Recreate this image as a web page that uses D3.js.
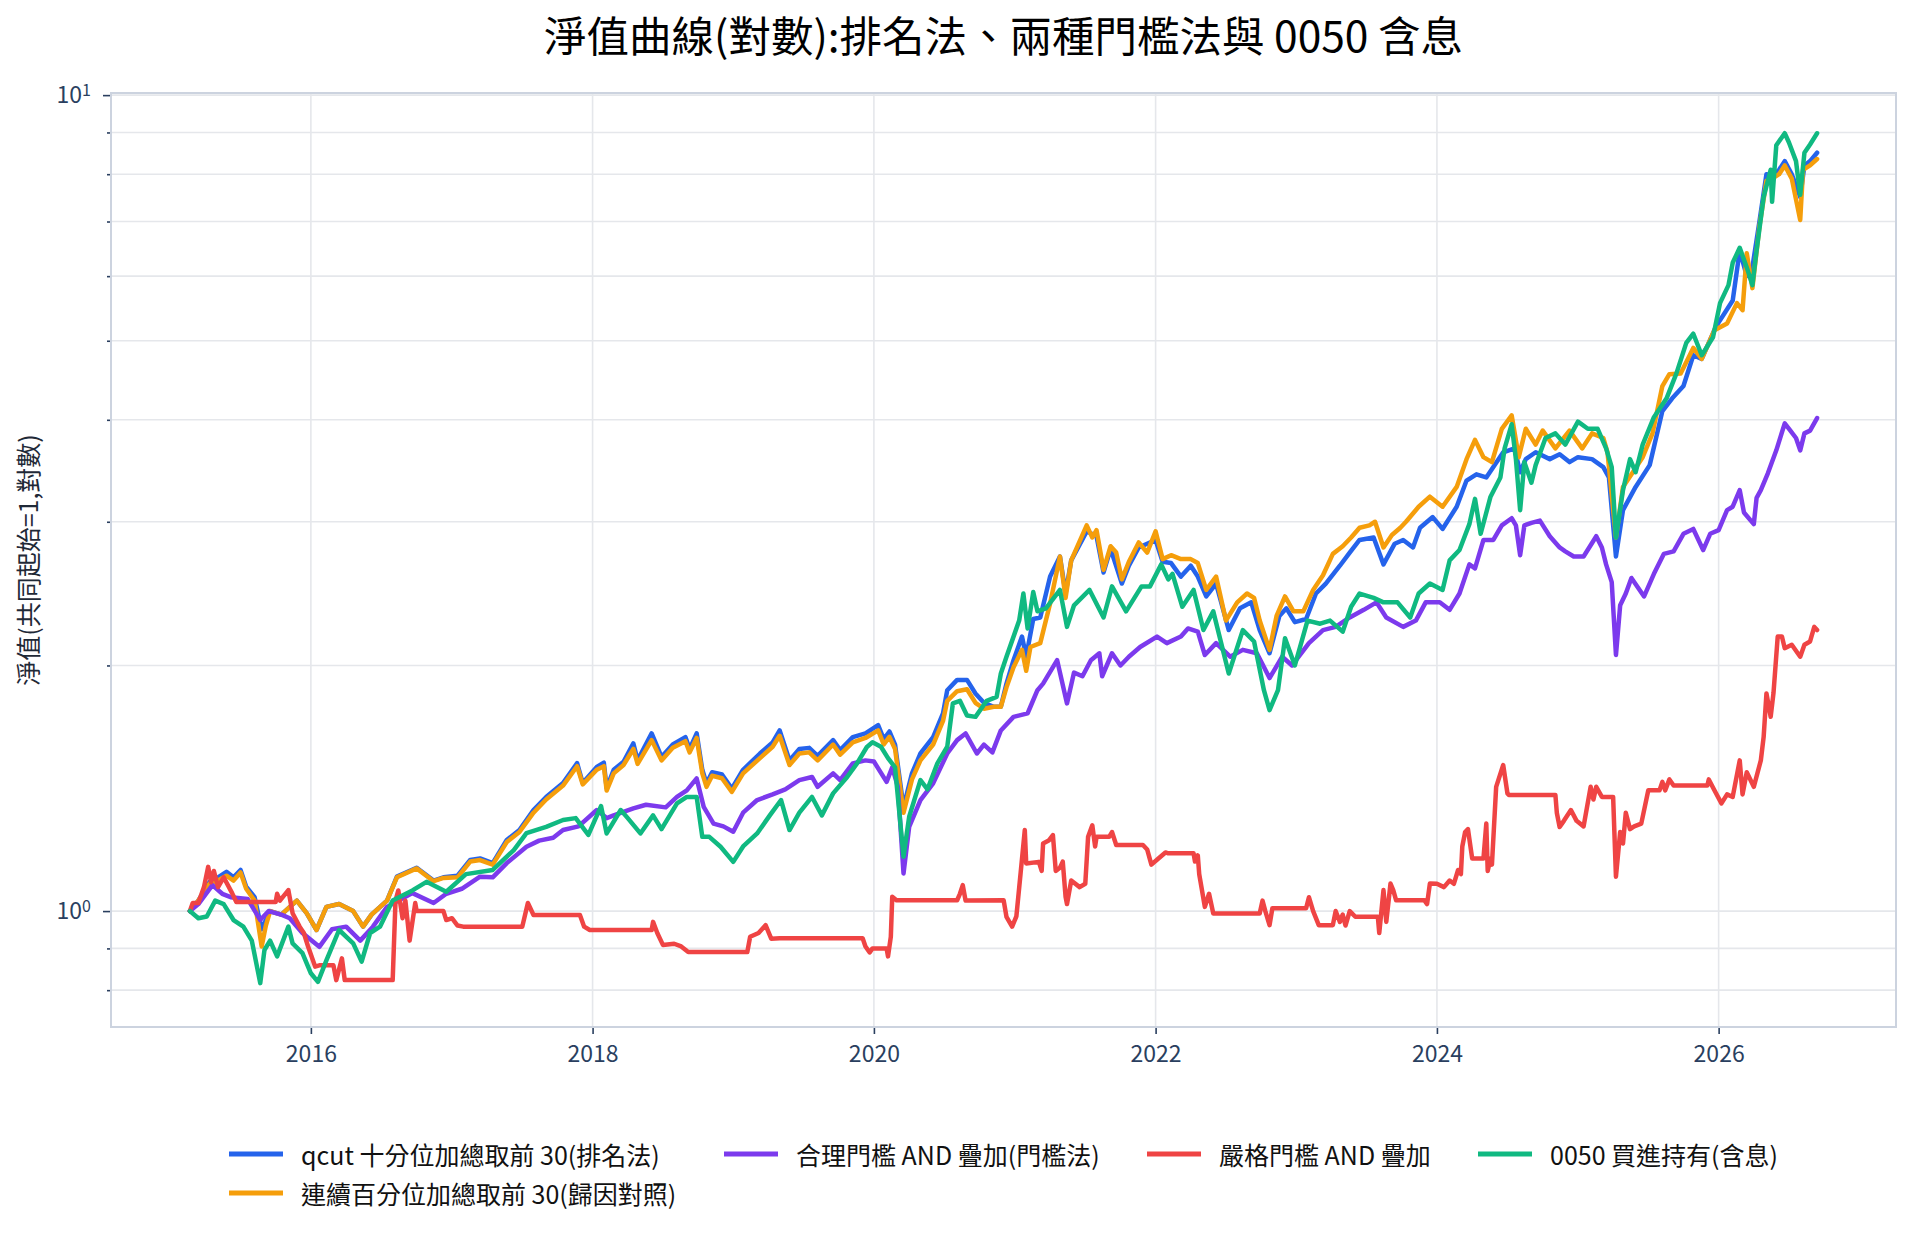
<!DOCTYPE html>
<html>
<head>
<meta charset="utf-8">
<script src="https://cdn.jsdelivr.net/npm/d3@7"></script>
<style>
body { margin: 0; background: #fff; }
text { font-family: "Noto Sans CJK TC", "Noto Sans", sans-serif; }
</style>
</head>
<body>
<svg id="chart" width="1914" height="1236"></svg>
<script>
// values: [decimal year, net value]
const qcut = [[2015.14,1.00],[2015.20,1.03],[2015.28,1.086],[2015.34,1.10],[2015.40,1.117],[2015.45,1.10],[2015.50,1.123],[2015.54,1.071],[2015.60,1.04],[2015.65,0.95],[2015.71,1.00],[2015.79,0.99],[2015.90,1.03],[2015.97,0.994],[2016.04,0.948],[2016.11,1.012],[2016.20,1.02],[2016.30,1.00],[2016.37,0.957],[2016.43,0.99],[2016.54,1.03],[2016.61,1.102],[2016.75,1.13],[2016.87,1.09],[2016.94,1.10],[2017.04,1.105],[2017.13,1.155],[2017.20,1.16],[2017.29,1.145],[2017.39,1.222],[2017.48,1.257],[2017.58,1.33],[2017.67,1.38],[2017.79,1.435],[2017.89,1.518],[2017.93,1.435],[2018.03,1.502],[2018.08,1.52],[2018.10,1.415],[2018.15,1.49],[2018.22,1.524],[2018.29,1.605],[2018.32,1.53],[2018.42,1.651],[2018.49,1.545],[2018.57,1.60],[2018.66,1.634],[2018.69,1.58],[2018.74,1.651],[2018.78,1.49],[2018.81,1.434],[2018.85,1.48],[2018.92,1.47],[2018.99,1.413],[2019.07,1.49],[2019.19,1.56],[2019.28,1.61],[2019.33,1.665],[2019.40,1.53],[2019.47,1.58],[2019.54,1.585],[2019.60,1.55],[2019.71,1.62],[2019.76,1.575],[2019.85,1.634],[2019.94,1.651],[2020.03,1.69],[2020.07,1.625],[2020.11,1.66],[2020.15,1.60],[2020.21,1.34],[2020.27,1.475],[2020.33,1.56],[2020.42,1.634],[2020.49,1.747],[2020.52,1.865],[2020.59,1.92],[2020.66,1.92],[2020.72,1.848],[2020.78,1.80],[2020.85,1.78],[2020.90,1.78],[2020.94,1.90],[2020.99,2.03],[2021.05,2.17],[2021.08,2.05],[2021.13,2.28],[2021.18,2.29],[2021.25,2.57],[2021.32,2.72],[2021.36,2.45],[2021.40,2.69],[2021.51,2.92],[2021.58,2.88],[2021.63,2.60],[2021.68,2.78],[2021.76,2.52],[2021.81,2.65],[2021.88,2.79],[2022.00,2.85],[2022.05,2.68],[2022.11,2.67],[2022.18,2.57],[2022.25,2.65],[2022.30,2.57],[2022.36,2.43],[2022.43,2.52],[2022.52,2.21],[2022.60,2.35],[2022.68,2.39],[2022.74,2.21],[2022.81,2.07],[2022.88,2.30],[2022.93,2.35],[2022.99,2.26],[2023.07,2.28],[2023.14,2.45],[2023.21,2.52],[2023.31,2.65],[2023.38,2.75],[2023.45,2.85],[2023.55,2.87],[2023.62,2.66],[2023.70,2.82],[2023.76,2.85],[2023.83,2.79],[2023.88,2.95],[2023.97,3.04],[2024.04,2.94],[2024.14,3.13],[2024.21,3.37],[2024.28,3.43],[2024.35,3.40],[2024.47,3.65],[2024.55,3.69],[2024.59,3.45],[2024.63,3.58],[2024.70,3.65],[2024.80,3.58],[2024.87,3.63],[2024.94,3.55],[2025.00,3.60],[2025.10,3.58],[2025.18,3.50],[2025.22,3.40],[2025.27,2.72],[2025.32,3.10],[2025.41,3.31],[2025.51,3.52],[2025.60,4.10],[2025.67,4.25],[2025.75,4.40],[2025.82,4.80],[2025.88,4.75],[2025.98,5.20],[2026.10,5.60],[2026.15,6.45],[2026.20,6.00],[2026.24,6.15],[2026.29,7.00],[2026.34,8.00],[2026.38,7.95],[2026.43,8.10],[2026.47,8.30],[2026.52,8.00],[2026.58,7.50],[2026.61,8.20],[2026.65,8.30],[2026.70,8.50]];

const pctRank = [[2015.14,1.00],[2015.20,1.03],[2015.28,1.08],[2015.34,1.09],[2015.40,1.105],[2015.45,1.09],[2015.50,1.115],[2015.54,1.065],[2015.60,1.03],[2015.65,0.905],[2015.68,0.96],[2015.71,1.00],[2015.79,0.99],[2015.90,1.03],[2015.97,0.994],[2016.04,0.948],[2016.11,1.012],[2016.20,1.02],[2016.30,1.00],[2016.37,0.957],[2016.43,0.99],[2016.54,1.03],[2016.61,1.10],[2016.75,1.128],[2016.87,1.088],[2016.94,1.098],[2017.04,1.10],[2017.13,1.15],[2017.20,1.155],[2017.29,1.14],[2017.39,1.215],[2017.48,1.25],[2017.58,1.32],[2017.67,1.37],[2017.79,1.425],[2017.89,1.505],[2017.93,1.43],[2018.03,1.49],[2018.08,1.505],[2018.10,1.405],[2018.15,1.475],[2018.22,1.51],[2018.29,1.58],[2018.32,1.515],[2018.42,1.62],[2018.49,1.53],[2018.57,1.585],[2018.66,1.615],[2018.69,1.565],[2018.74,1.63],[2018.78,1.475],[2018.81,1.42],[2018.85,1.465],[2018.92,1.455],[2018.99,1.40],[2019.07,1.475],[2019.19,1.54],[2019.28,1.59],[2019.33,1.64],[2019.40,1.51],[2019.47,1.56],[2019.54,1.565],[2019.60,1.53],[2019.71,1.60],[2019.76,1.555],[2019.85,1.61],[2019.94,1.63],[2020.03,1.665],[2020.07,1.60],[2020.11,1.635],[2020.15,1.58],[2020.21,1.32],[2020.27,1.45],[2020.33,1.53],[2020.42,1.60],[2020.49,1.71],[2020.52,1.81],[2020.59,1.86],[2020.66,1.87],[2020.72,1.80],[2020.78,1.77],[2020.85,1.78],[2020.90,1.78],[2020.94,1.88],[2020.99,1.99],[2021.05,2.09],[2021.08,1.97],[2021.11,2.107],[2021.18,2.13],[2021.25,2.383],[2021.32,2.72],[2021.36,2.42],[2021.40,2.69],[2021.51,2.97],[2021.55,2.87],[2021.58,2.93],[2021.63,2.62],[2021.68,2.80],[2021.72,2.75],[2021.76,2.55],[2021.81,2.68],[2021.88,2.83],[2021.94,2.75],[2022.00,2.92],[2022.05,2.70],[2022.11,2.73],[2022.18,2.70],[2022.25,2.70],[2022.30,2.67],[2022.36,2.475],[2022.43,2.57],[2022.50,2.27],[2022.58,2.39],[2022.65,2.45],[2022.70,2.42],[2022.74,2.27],[2022.81,2.09],[2022.86,2.30],[2022.92,2.43],[2022.98,2.33],[2023.05,2.33],[2023.12,2.475],[2023.19,2.58],[2023.26,2.74],[2023.33,2.80],[2023.39,2.87],[2023.45,2.95],[2023.52,2.97],[2023.56,3.00],[2023.62,2.79],[2023.68,2.89],[2023.74,2.95],[2023.78,3.00],[2023.87,3.13],[2023.95,3.22],[2024.04,3.13],[2024.14,3.31],[2024.21,3.58],[2024.27,3.78],[2024.33,3.60],[2024.39,3.55],[2024.46,3.90],[2024.53,4.05],[2024.58,3.60],[2024.63,3.90],[2024.70,3.73],[2024.75,3.88],[2024.84,3.69],[2024.94,3.88],[2025.03,3.69],[2025.10,3.85],[2025.18,3.80],[2025.21,3.65],[2025.27,2.87],[2025.32,3.31],[2025.39,3.45],[2025.46,3.60],[2025.53,3.85],[2025.60,4.40],[2025.65,4.55],[2025.73,4.56],[2025.82,4.90],[2025.88,4.75],[2025.97,5.15],[2026.06,5.25],[2026.13,5.56],[2026.17,5.45],[2026.20,6.40],[2026.24,5.80],[2026.29,6.90],[2026.34,7.85],[2026.38,7.90],[2026.43,8.00],[2026.47,8.20],[2026.52,7.90],[2026.58,7.03],[2026.60,8.10],[2026.65,8.20],[2026.70,8.35]];

const fairGate = [[2015.14,1.00],[2015.20,1.02],[2015.30,1.076],[2015.37,1.05],[2015.43,1.04],[2015.55,1.035],[2015.64,0.975],[2015.70,1.00],[2015.79,0.99],[2015.85,0.98],[2015.94,0.94],[2016.06,0.904],[2016.15,0.95],[2016.25,0.957],[2016.35,0.92],[2016.44,0.957],[2016.54,1.012],[2016.72,1.052],[2016.87,1.023],[2016.96,1.05],[2017.07,1.065],[2017.20,1.102],[2017.29,1.10],[2017.39,1.145],[2017.53,1.199],[2017.62,1.22],[2017.72,1.23],[2017.79,1.257],[2017.90,1.27],[2018.03,1.33],[2018.10,1.30],[2018.15,1.31],[2018.29,1.336],[2018.38,1.35],[2018.52,1.34],[2018.60,1.38],[2018.67,1.406],[2018.74,1.454],[2018.79,1.342],[2018.86,1.28],[2018.93,1.27],[2019.00,1.251],[2019.07,1.32],[2019.17,1.368],[2019.28,1.39],[2019.37,1.41],[2019.47,1.447],[2019.56,1.46],[2019.60,1.42],[2019.71,1.475],[2019.76,1.447],[2019.85,1.517],[2019.94,1.53],[2020.00,1.525],[2020.09,1.44],[2020.13,1.50],[2020.17,1.42],[2020.21,1.112],[2020.25,1.268],[2020.33,1.368],[2020.42,1.434],[2020.52,1.56],[2020.59,1.62],[2020.65,1.651],[2020.73,1.56],[2020.78,1.60],[2020.84,1.565],[2020.90,1.665],[2020.99,1.73],[2021.09,1.747],[2021.11,1.78],[2021.16,1.865],[2021.20,1.90],[2021.30,2.03],[2021.37,1.797],[2021.42,1.96],[2021.48,1.94],[2021.54,2.03],[2021.60,2.07],[2021.62,1.94],[2021.69,2.07],[2021.75,2.00],[2021.81,2.05],[2021.89,2.107],[2022.01,2.17],[2022.08,2.13],[2022.18,2.17],[2022.23,2.22],[2022.30,2.20],[2022.35,2.06],[2022.43,2.13],[2022.53,2.05],[2022.62,2.09],[2022.72,2.07],[2022.81,1.93],[2022.90,2.05],[2022.97,2.00],[2023.09,2.13],[2023.19,2.21],[2023.28,2.23],[2023.38,2.29],[2023.48,2.34],[2023.57,2.39],[2023.64,2.29],[2023.76,2.23],[2023.85,2.27],[2023.92,2.39],[2024.02,2.39],[2024.09,2.34],[2024.16,2.45],[2024.23,2.66],[2024.27,2.63],[2024.33,2.85],[2024.40,2.85],[2024.46,2.97],[2024.53,3.03],[2024.56,2.97],[2024.59,2.73],[2024.62,2.97],[2024.67,2.99],[2024.73,3.01],[2024.80,2.88],[2024.87,2.79],[2024.91,2.76],[2024.97,2.72],[2025.04,2.72],[2025.08,2.79],[2025.13,2.88],[2025.17,2.79],[2025.20,2.66],[2025.24,2.53],[2025.27,2.06],[2025.30,2.37],[2025.34,2.45],[2025.38,2.56],[2025.47,2.43],[2025.54,2.59],[2025.61,2.74],[2025.68,2.76],[2025.75,2.90],[2025.82,2.94],[2025.89,2.77],[2025.94,2.90],[2026.00,2.93],[2026.06,3.10],[2026.10,3.13],[2026.15,3.28],[2026.18,3.08],[2026.25,2.98],[2026.27,3.21],[2026.30,3.28],[2026.35,3.44],[2026.41,3.67],[2026.47,3.96],[2026.51,3.88],[2026.55,3.80],[2026.58,3.67],[2026.61,3.85],[2026.65,3.88],[2026.70,4.02]];

const strictGate = [[2015.14,1.00],[2015.16,1.023],[2015.20,1.023],[2015.24,1.07],[2015.27,1.133],[2015.29,1.085],[2015.31,1.12],[2015.34,1.07],[2015.38,1.10],[2015.44,1.052],[2015.47,1.026],[2015.75,1.026],[2015.76,1.05],[2015.78,1.03],[2015.84,1.061],[2015.87,0.994],[2015.92,0.957],[2015.95,0.94],[2015.98,0.905],[2016.03,0.855],[2016.06,0.858],[2016.16,0.858],[2016.18,0.823],[2016.22,0.875],[2016.24,0.823],[2016.58,0.823],[2016.60,1.03],[2016.62,1.06],[2016.65,0.98],[2016.67,1.03],[2016.70,0.92],[2016.74,1.023],[2016.75,1.00],[2016.94,1.00],[2016.96,0.975],[2017.00,0.98],[2017.04,0.96],[2017.08,0.957],[2017.50,0.957],[2017.54,1.023],[2017.58,0.989],[2017.91,0.989],[2017.94,0.957],[2017.98,0.948],[2018.42,0.948],[2018.43,0.97],[2018.46,0.94],[2018.50,0.909],[2018.58,0.912],[2018.63,0.905],[2018.68,0.891],[2019.10,0.891],[2019.12,0.93],[2019.18,0.94],[2019.23,0.961],[2019.27,0.925],[2019.33,0.926],[2019.92,0.926],[2019.94,0.905],[2019.97,0.89],[2019.99,0.90],[2020.09,0.90],[2020.10,0.88],[2020.12,0.93],[2020.13,1.041],[2020.16,1.031],[2020.59,1.031],[2020.61,1.05],[2020.63,1.076],[2020.65,1.03],[2020.92,1.031],[2020.94,0.984],[2020.98,0.957],[2021.01,0.985],[2021.04,1.112],[2021.07,1.257],[2021.08,1.144],[2021.17,1.149],[2021.19,1.12],[2021.20,1.21],[2021.24,1.22],[2021.27,1.239],[2021.29,1.12],[2021.32,1.13],[2021.34,1.15],[2021.36,1.041],[2021.37,1.02],[2021.40,1.09],[2021.46,1.07],[2021.50,1.08],[2021.52,1.233],[2021.55,1.274],[2021.57,1.20],[2021.58,1.233],[2021.67,1.233],[2021.69,1.25],[2021.72,1.205],[2021.91,1.205],[2021.94,1.19],[2021.97,1.14],[2022.02,1.16],[2022.07,1.18],[2022.09,1.177],[2022.27,1.177],[2022.28,1.15],[2022.30,1.17],[2022.31,1.11],[2022.35,1.012],[2022.38,1.05],[2022.41,0.993],[2022.74,0.993],[2022.76,1.03],[2022.78,1.00],[2022.81,0.961],[2022.83,1.008],[2023.07,1.008],[2023.09,1.04],[2023.12,1.00],[2023.16,0.961],[2023.26,0.961],[2023.28,1.00],[2023.31,0.97],[2023.33,0.99],[2023.35,0.96],[2023.38,1.00],[2023.42,0.984],[2023.58,0.984],[2023.59,0.94],[2023.62,1.061],[2023.64,0.97],[2023.67,1.081],[2023.69,1.06],[2023.71,1.031],[2023.91,1.031],[2023.93,1.02],[2023.95,1.081],[2024.00,1.08],[2024.05,1.07],[2024.09,1.09],[2024.12,1.08],[2024.15,1.123],[2024.17,1.11],[2024.18,1.20],[2024.20,1.25],[2024.22,1.26],[2024.25,1.16],[2024.33,1.16],[2024.35,1.28],[2024.36,1.12],[2024.38,1.16],[2024.39,1.14],[2024.42,1.42],[2024.47,1.51],[2024.50,1.394],[2024.51,1.388],[2024.84,1.388],[2024.85,1.32],[2024.87,1.268],[2024.90,1.29],[2024.95,1.33],[2024.99,1.29],[2025.04,1.27],[2025.09,1.42],[2025.11,1.37],[2025.13,1.42],[2025.17,1.38],[2025.25,1.38],[2025.27,1.102],[2025.30,1.25],[2025.32,1.21],[2025.34,1.32],[2025.37,1.26],[2025.40,1.27],[2025.45,1.28],[2025.50,1.406],[2025.58,1.406],[2025.60,1.44],[2025.62,1.406],[2025.65,1.45],[2025.68,1.425],[2025.92,1.425],[2025.93,1.45],[2025.97,1.406],[2026.02,1.355],[2026.06,1.39],[2026.10,1.38],[2026.15,1.53],[2026.17,1.39],[2026.20,1.48],[2026.25,1.42],[2026.30,1.53],[2026.32,1.634],[2026.34,1.848],[2026.37,1.73],[2026.39,1.85],[2026.42,2.17],[2026.45,2.17],[2026.47,2.10],[2026.52,2.12],[2026.58,2.05],[2026.61,2.12],[2026.65,2.14],[2026.68,2.23],[2026.70,2.21]];

const etf0050 = [[2015.14,1.00],[2015.20,0.98],[2015.26,0.985],[2015.32,1.03],[2015.38,1.02],[2015.45,0.975],[2015.52,0.957],[2015.58,0.92],[2015.64,0.816],[2015.67,0.896],[2015.71,0.92],[2015.76,0.88],[2015.84,0.957],[2015.87,0.913],[2015.94,0.888],[2016.00,0.839],[2016.05,0.819],[2016.11,0.87],[2016.20,0.948],[2016.30,0.913],[2016.36,0.867],[2016.42,0.94],[2016.49,0.957],[2016.58,1.03],[2016.72,1.06],[2016.82,1.086],[2016.96,1.056],[2017.10,1.11],[2017.29,1.123],[2017.44,1.188],[2017.53,1.246],[2017.67,1.268],[2017.79,1.293],[2017.88,1.30],[2017.97,1.24],[2018.06,1.345],[2018.10,1.245],[2018.20,1.33],[2018.25,1.30],[2018.34,1.245],[2018.43,1.31],[2018.49,1.26],[2018.60,1.355],[2018.67,1.38],[2018.74,1.38],[2018.78,1.233],[2018.83,1.233],[2018.91,1.199],[2019.00,1.149],[2019.07,1.20],[2019.17,1.245],[2019.26,1.31],[2019.34,1.368],[2019.40,1.257],[2019.47,1.32],[2019.56,1.38],[2019.63,1.31],[2019.71,1.394],[2019.81,1.46],[2019.88,1.517],[2019.95,1.589],[2019.99,1.61],[2020.05,1.59],[2020.10,1.54],[2020.15,1.50],[2020.21,1.166],[2020.25,1.305],[2020.33,1.447],[2020.38,1.41],[2020.45,1.517],[2020.52,1.59],[2020.56,1.797],[2020.61,1.81],[2020.66,1.737],[2020.72,1.73],[2020.80,1.81],[2020.87,1.83],[2020.90,1.955],[2020.94,2.05],[2021.03,2.27],[2021.06,2.45],[2021.09,2.22],[2021.13,2.46],[2021.16,2.33],[2021.22,2.35],[2021.32,2.475],[2021.37,2.23],[2021.42,2.37],[2021.53,2.475],[2021.63,2.29],[2021.69,2.50],[2021.79,2.33],[2021.90,2.50],[2021.96,2.50],[2022.04,2.66],[2022.09,2.55],[2022.12,2.59],[2022.19,2.36],[2022.27,2.475],[2022.34,2.21],[2022.41,2.33],[2022.52,1.955],[2022.62,2.21],[2022.70,2.14],[2022.77,1.865],[2022.81,1.763],[2022.87,1.865],[2022.92,2.16],[2022.99,2.00],[2023.08,2.27],[2023.17,2.25],[2023.24,2.27],[2023.33,2.20],[2023.39,2.36],[2023.45,2.45],[2023.55,2.42],[2023.62,2.39],[2023.72,2.39],[2023.81,2.29],[2023.87,2.45],[2023.95,2.52],[2024.04,2.475],[2024.09,2.69],[2024.16,2.77],[2024.23,2.98],[2024.27,3.20],[2024.31,2.90],[2024.38,3.22],[2024.45,3.40],[2024.48,3.69],[2024.53,3.95],[2024.56,3.58],[2024.59,3.10],[2024.62,3.55],[2024.67,3.35],[2024.70,3.52],[2024.77,3.80],[2024.84,3.85],[2024.91,3.73],[2025.00,3.98],[2025.07,3.90],[2025.14,3.90],[2025.20,3.69],[2025.24,3.50],[2025.27,2.87],[2025.32,3.28],[2025.37,3.58],[2025.41,3.45],[2025.46,3.73],[2025.54,4.03],[2025.63,4.25],[2025.70,4.56],[2025.77,4.97],[2025.82,5.10],[2025.88,4.80],[2025.96,5.05],[2026.01,5.56],[2026.07,5.85],[2026.10,6.23],[2026.15,6.50],[2026.20,6.15],[2026.24,5.85],[2026.27,6.45],[2026.32,7.50],[2026.37,8.10],[2026.38,7.40],[2026.41,8.68],[2026.47,8.98],[2026.50,8.75],[2026.55,8.30],[2026.58,7.55],[2026.61,8.50],[2026.65,8.70],[2026.70,8.98]];

const seriesNames = ["qcut 十分位加總取前 30(排名法)", "合理門檻 AND 疊加(門檻法)", "嚴格門檻 AND 疊加", "0050 買進持有(含息)", "連續百分位加總取前 30(歸因對照)"];
const seriesColors = ["#2563eb", "#7c3aed", "#ef4444", "#10b981", "#f59e0b"];
const seriesData = [qcut, fairGate, strictGate, etf0050, pctRank];
const drawOrder = [0, 4, 1, 2, 3];

const yearTicks = [2016, 2018, 2020, 2022, 2024, 2026];
const yTicks = [0.8, 0.9, 1, 2, 3, 4, 5, 6, 7, 8, 9, 10];
const yMajor = [1, 10];
const xRange = [2014.579, 2027.261];
const yRange = [0.721, 10.06];

const titleText = "淨值曲線(對數):排名法、兩種門檻法與 0050 含息";
const yTitleText = "淨值(共同起始=1,對數)";

// layout
const W = 1914, H = 1236;
const plotLeft = 111, plotRight = 1896, plotTop = 93, plotBottom = 1027;
const tickColor = "#2a3f5f";
const gridColor = "#e5e7eb";
const frameColor = "#ccd3df";

function yearToDate(t) {
	const y = Math.floor(t);
	const s = Date.UTC(y, 0, 1), e = Date.UTC(y + 1, 0, 1);
	return new Date(s + (t - y) * (e - s));
}

const svg = d3.select("#chart");
svg.append("rect").attr("width", W).attr("height", H).attr("fill", "#fff");

const x = d3.scaleUtc()
	.domain(xRange.map(yearToDate))
	.range([plotLeft, plotRight]);

const y = d3.scaleLog()
	.domain(yRange)
	.range([plotBottom, plotTop]);

// grid
const grid = svg.append("g");
yTicks.forEach((v) => {
	grid.append("line")
		.attr("x1", plotLeft).attr("x2", plotRight)
		.attr("y1", y(v)).attr("y2", y(v))
		.attr("stroke", gridColor).attr("stroke-width", 1.6);
});
yearTicks.forEach((yr) => {
	grid.append("line")
		.attr("x1", x(yearToDate(yr))).attr("x2", x(yearToDate(yr)))
		.attr("y1", plotTop).attr("y2", plotBottom)
		.attr("stroke", gridColor).attr("stroke-width", 1.6);
});

// axes
const xAxis = d3.axisBottom(x)
	.tickValues(yearTicks.map(yearToDate))
	.tickFormat(d3.utcFormat("%Y"))
	.tickSize(7)
	.tickPadding(12);

const gx = svg.append("g")
	.attr("transform", "translate(0," + plotBottom + ")")
	.call(xAxis);
gx.select(".domain").remove();
gx.selectAll("line").attr("stroke", tickColor).attr("stroke-width", 1.6);
gx.selectAll("text").attr("fill", tickColor).style("font-size", "23px");

const yAxis = d3.axisLeft(y)
	.tickValues(yTicks)
	.tickFormat(() => "")
	.tickSize(8)
	.tickPadding(12);

const gy = svg.append("g")
	.attr("transform", "translate(" + plotLeft + ",0)")
	.call(yAxis);
gy.select(".domain").remove();
gy.selectAll(".tick line")
	.attr("stroke", tickColor).attr("stroke-width", 1.6)
	.attr("x2", (d) => yMajor.indexOf(d) != -1 ? -8 : -4);
gy.selectAll(".tick text")
	.attr("fill", tickColor)
	.style("font-size", "23px")
	.each(function (d) {
		if (yMajor.indexOf(d) == -1) return;
		const t = d3.select(this);
		t.append("tspan").text("10");
		t.append("tspan")
			.attr("dy", "-0.45em")
			.style("font-size", "16px")
			.text(String(Math.round(Math.log10(d))));
	});

// frame
svg.append("rect")
	.attr("x", plotLeft).attr("y", plotTop)
	.attr("width", plotRight - plotLeft).attr("height", plotBottom - plotTop)
	.attr("fill", "none").attr("stroke", frameColor).attr("stroke-width", 2);

// lines
svg.append("clipPath").attr("id", "plotclip")
	.append("rect")
	.attr("x", plotLeft).attr("y", plotTop)
	.attr("width", plotRight - plotLeft).attr("height", plotBottom - plotTop);

const line = d3.line()
	.x((d) => x(yearToDate(d[0])))
	.y((d) => y(d[1]));

const linesG = svg.append("g").attr("clip-path", "url(#plotclip)");
drawOrder.forEach((i) => {
	linesG.append("path")
		.datum(seriesData[i])
		.attr("d", line)
		.attr("fill", "none")
		.attr("stroke", seriesColors[i])
		.attr("stroke-width", 4.5)
		.attr("stroke-linejoin", "round")
		.attr("stroke-linecap", "round");
});

// title
svg.append("text")
	.attr("x", (plotLeft + plotRight) / 2)
	.attr("y", 52)
	.attr("text-anchor", "middle")
	.attr("fill", "#000")
	.style("font-size", "42.5px")
	.text(titleText);

// y title
svg.append("text")
	.attr("transform", "translate(38," + ((plotTop + plotBottom) / 2) + ") rotate(-90)")
	.attr("text-anchor", "middle")
	.attr("fill", "#1f2937")
	.style("font-size", "25px")
	.text(yTitleText);

// legend
const legendPos = [[229, 1154], [724, 1154], [1147, 1154], [1478, 1154], [229, 1193]];
const legend = svg.append("g");
seriesNames.forEach((name, i) => {
	const p = legendPos[i];
	legend.append("line")
		.attr("x1", p[0]).attr("x2", p[0] + 54)
		.attr("y1", p[1]).attr("y2", p[1])
		.attr("stroke", seriesColors[i]).attr("stroke-width", 5);
	legend.append("text")
		.attr("x", p[0] + 72).attr("y", p[1])
		.attr("dominant-baseline", "central")
		.attr("fill", "#111")
		.style("font-size", "25px")
		.text(name);
});
</script>
</body>
</html>
